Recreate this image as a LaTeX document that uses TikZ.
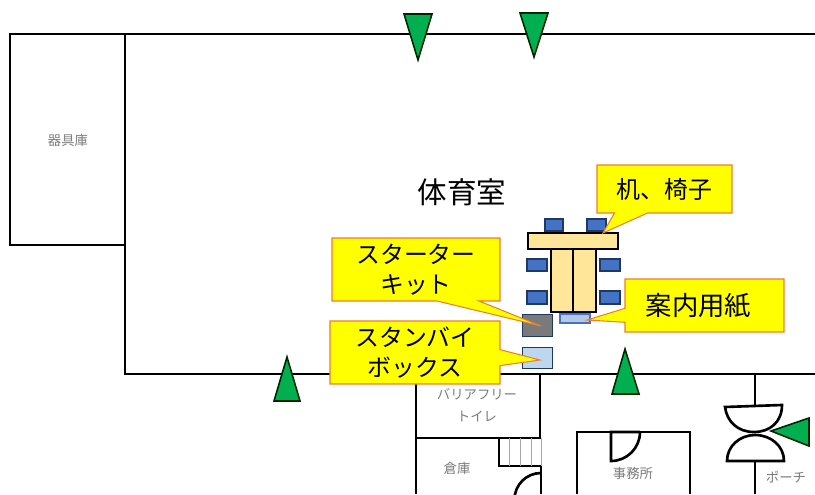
\documentclass[tikz,border=0pt]{standalone}
\usepackage{fontspec}
\setmainfont{Noto Sans CJK JP}
\usepackage{tikz}
\usetikzlibrary{calc, shapes.callouts}
\definecolor{wallgray}{HTML}{7A7A7A}
\definecolor{entrygreen}{HTML}{00B050}
\definecolor{chairblue}{HTML}{4472C4}
\definecolor{chairedge}{HTML}{203864}
\definecolor{desktan}{HTML}{FFE699}
\definecolor{notefill}{HTML}{FFFF00}
\definecolor{noteedge}{HTML}{ED7D31}
\definecolor{standbyblue}{HTML}{BDD7EE}
\definecolor{paperblue}{HTML}{B4C7E7}
\tikzset{
  wall/.style={draw=black, line width=1.5pt},
  roomlabel/.style={text=wallgray, font=\fontsize{7.6}{9}\selectfont, inner sep=0pt},
  entry/.style={draw=black!85!green, line width=0.9pt, fill=entrygreen},
  desk/.style={draw=black, line width=1.5pt, fill=desktan},
  chair/.style={draw=chairedge, line width=1.2pt, fill=chairblue},
  box/.style={draw=chairedge, line width=1.1pt, minimum width=0.6cm, inner sep=0pt},
  note/.style={rectangle callout, draw=noteedge, line width=0.6pt, fill=notefill, align=center, inner sep=0pt, font=\fontsize{13.6}{17}\selectfont}
}
\begin{document}
\begin{tikzpicture}[x=0.02cm, y=-0.02cm]
  \useasboundingbox (0,0) rectangle (815,494);
  \draw [wall] (815,34) -- (10,34) -- (10,245) -- (125,245);
  \draw [wall] (125,34) -- (125,374) -- (815,374);
  \draw [wall] (416,374) -- (416,494);
  \draw [wall] (540,374) -- (540,438) -- (416,438);
  \draw [wall] (499,438) -- (499,466) -- (541,466) -- (541,494);
  \draw [gray!70, thin] (509,438) -- (509,466);
  \draw [gray!70, thin] (520,438) -- (520,466);
  \draw [gray!70, thin] (531,438) -- (531,466);
  \draw [gray!70, thin] (541,438) -- (541,466);
  \draw [wall] (541,473) arc [start angle=90, end angle=180, radius=0.53cm];
  \draw [wall] (577,494) -- (577,432) -- (690,432) -- (690,494);
  \draw [wall] (640,432) -- (611,432) -- (611,461) arc [start angle=270, end angle=360, radius=0.58cm];
  \draw [wall] (755,374) -- (755,405);
  \draw [wall] (755,461) -- (755,494);
  \draw [wall] (725,407) -- (782,405) .. controls (782,422) and (770,432) .. (754,432) .. controls (738,432) and (727,422) .. cycle;
  \draw [wall] (727,461) -- (784,461) .. controls (784,446) and (771,435) .. (755,435) .. controls (740,435) and (727,446) .. cycle;

  \node (kigu) at (68,140) [roomlabel] {器具庫};
  \node (barrier) at (477,394) [roomlabel] {バリアフリー};
  \node (toilet) at (477,416) [roomlabel] {トイレ};
  \node (souko) at (457,468) [roomlabel] {倉庫};
  \node (jimu) at (633,473) [roomlabel] {事務所};
  \node (porch) at (786,477) [roomlabel] {ポーチ};
  \node (gym) at (462,192) [inner sep=0pt, font=\fontsize{16.8}{20}\selectfont] {体育室};

  \draw [entry] (404,14) -- (432,14) -- (418,60) -- cycle;
  \draw [entry] (520,13) -- (548,13) -- (534,57) -- cycle;
  \draw [entry] (287,357) -- (300,401) -- (274,401) -- cycle;
  \draw [entry] (625,349) -- (639,394) -- (612,394) -- cycle;
  \draw [entry] (771,431) -- (809,418) -- (809,446) -- cycle;

  \draw [chair] (545,219) rectangle (563,231);
  \draw [chair] (587,219) rectangle (606,231);
  \draw [chair] (527,259) rectangle (547,271);
  \draw [chair] (527,291) rectangle (547,304);
  \draw [chair] (600,259) rectangle (620,271);
  \draw [chair] (600,291) rectangle (620,304);
  \draw [desk] (528,233) rectangle (618,249);
  \draw [desk] (551,249) rectangle (573,312);
  \draw [desk] (573,249) rectangle (596,312);
  \node (kitbox) at (537.5,325.5) [box, fill=wallgray, minimum height=0.44cm] {};
  \node (standbybox) at (537.5,358) [box, fill=standbyblue, minimum height=0.42cm] {};
  \node (paper) at (575,318.5) [draw=chairblue, line width=1.2pt, fill=paperblue, minimum width=0.6cm, minimum height=0.18cm, inner sep=0pt] {};

  \coordinate (desktip) at (603,233);
  \coordinate (kittip) at (541,326);
  \coordinate (standbytip) at (540,360);
  \coordinate (papertip) at (587,320);
  \node (desknote) at (664.5,189) [note, minimum width=2.7cm, minimum height=0.96cm, callout absolute pointer={(desktip)}, callout pointer width=0.66cm] {机、椅子};
  \node (kitnote) at (416,269.5) [note, minimum width=3.36cm, minimum height=1.26cm, callout absolute pointer={(kittip)}, callout pointer width=0.84cm] {スターター\\キット};
  \node (standbynote) at (415,352.5) [note, minimum width=3.4cm, minimum height=1.26cm, callout absolute pointer={(standbytip)}, callout pointer width=0.32cm] {スタンバイ\\ボックス};
  \node (papernote) at (704.5,305.5) [note, minimum width=3.18cm, minimum height=1.06cm, callout absolute pointer={(papertip)}, callout pointer width=0.28cm, font=\fontsize{15}{18}\selectfont] {\kern-0.12cm 案内用紙\kern0.12cm};
\end{tikzpicture}
\end{document}
